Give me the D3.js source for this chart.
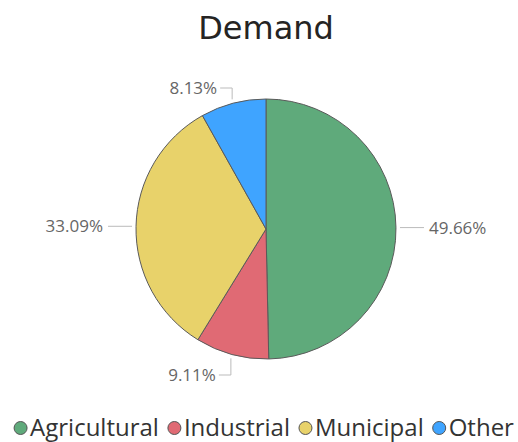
<!DOCTYPE html>
<html><head><meta charset="utf-8">
<script src="https://cdn.jsdelivr.net/npm/d3@7"></script>
<style>body{margin:0;background:#fff}</style>
</head><body><svg id="c" width="518" height="442"></svg>
<script>
const categories = ["Agricultural","Industrial","Municipal","Other"];
const values = [49.66, 9.11, 33.09, 8.13];
const colors = ["#5FAA7B","#E06A74","#E8D26A","#3FA4FF"];
const title = "Demand";

const svg = d3.select("#c");
const W = 518, cx = 266, cy = 229, R = 130;
svg.append("text").attr("x", 266).attr("y", 39).attr("text-anchor","middle")
  .attr("font-family","'DejaVu Sans', sans-serif").attr("font-size", 32).attr("fill","#252423").text(title);

const data = categories.map((c,i)=>({c, v: values[i], col: colors[i]}));
const pie = d3.pie().value(d=>d.v).sort(null);
const arcs = pie(data);
const arc = d3.arc().innerRadius(0).outerRadius(R);
const g = svg.append("g").attr("transform",`translate(${cx},${cy})`);
g.selectAll("path").data(arcs).join("path").attr("d", arc)
  .attr("fill", d=>d.data.col).attr("stroke","#5a5a5a").attr("stroke-width",1);

// labels
const fmt = d => d.toFixed(2) + "%";
const lab = svg.append("g").attr("font-family","'Open Sans', sans-serif").attr("font-size",17).attr("fill","#666");
arcs.forEach(a=>{
  const mid = (a.startAngle + a.endAngle)/2;
  const sx = Math.sin(mid), sy = -Math.cos(mid);
  const p0 = [cx + sx*(R+4), cy + sy*(R+4)];
  let pts, tx, ty, anchor;
  if (Math.abs(sx) > 0.9) {
    const dir = sx > 0 ? 1 : -1;
    pts = [p0, [p0[0] + dir*24, p0[1]]];
    tx = p0[0] + dir*29; ty = p0[1]; anchor = dir>0 ? "start":"end";
  } else {
    const dir = sy > 0 ? 1 : -1;
    const py = dir > 0 ? cy + R + 16 : cy - R - 11;
    const p1 = [p0[0], py];
    const p2 = [p0[0]-12, py];
    pts = [p0, p1, p2];
    tx = p2[0]-3; ty = py; anchor = "end";
  }
  lab.append("path").attr("d", d3.line()(pts)).attr("fill","none").attr("stroke","#bbb").attr("stroke-width",1);
  lab.append("text").attr("x",tx).attr("y",ty).attr("dy","0.35em").attr("text-anchor",anchor).text(fmt(a.data.v));
});

// legend
const leg = svg.append("g").attr("font-family","'Open Sans', sans-serif").attr("font-size",24).attr("fill","#333");
let x = 0; const items = [];
data.forEach(d=>{
  const gi = leg.append("g");
  gi.append("circle").attr("cx",6.5).attr("cy",0).attr("r",6.5).attr("fill",d.col).attr("stroke","#555").attr("stroke-width",1);
  const t = gi.append("text").attr("x",16).attr("y",0).attr("dy","0.35em").text(d.c);
  const w = 16 + t.node().getComputedTextLength();
  items.push({gi,w});
});
const gap = 9;
const total = d3.sum(items, d=>d.w) + gap*(items.length-1);
x = (W - total)/2 + 5;
items.forEach(it=>{ it.gi.attr("transform",`translate(${x},428)`); x += it.w + gap; });
</script></body></html>
